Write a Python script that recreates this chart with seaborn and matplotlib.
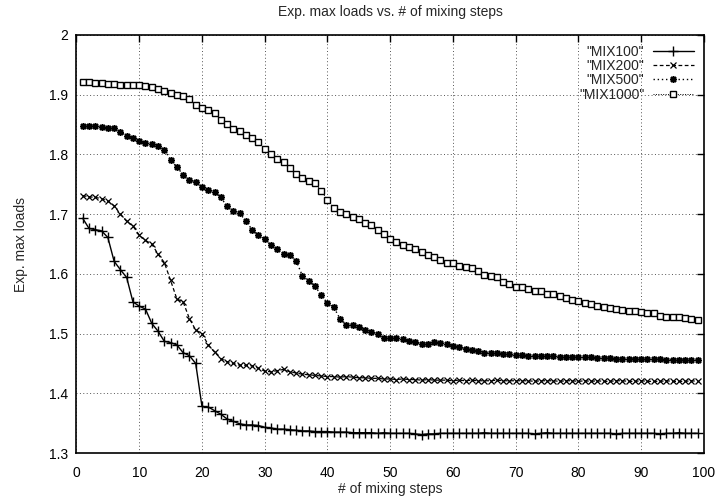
import matplotlib
matplotlib.use("Agg")
import matplotlib.pyplot as plt
import matplotlib.ticker as mticker
import seaborn as sns
import pandas as pd

steps = list(range(1, 100))

mix100 = [1.693, 1.676, 1.674, 1.672, 1.661, 1.621, 1.607, 1.594, 1.553, 1.546,
          1.541, 1.517, 1.504, 1.487, 1.485, 1.481, 1.468, 1.463, 1.450, 1.378,
          1.377, 1.371, 1.365, 1.357, 1.353, 1.349, 1.347, 1.347, 1.346, 1.343,
          1.342, 1.340, 1.340, 1.339, 1.338, 1.337, 1.337, 1.336, 1.336, 1.336,
          1.335, 1.335, 1.335, 1.334, 1.334, 1.334, 1.334, 1.333, 1.334, 1.333,
          1.333, 1.333, 1.333, 1.332, 1.331, 1.332, 1.332, 1.333, 1.333, 1.333,
          1.333, 1.333, 1.333, 1.333, 1.334, 1.333, 1.333, 1.333, 1.333, 1.333,
          1.333, 1.333, 1.332, 1.333, 1.334, 1.333, 1.333, 1.333, 1.333, 1.333,
          1.333, 1.333, 1.333, 1.333, 1.333, 1.332, 1.333, 1.333, 1.333, 1.333,
          1.333, 1.333, 1.332, 1.333, 1.333, 1.334, 1.333, 1.333, 1.333]

mix200 = [1.731, 1.729, 1.728, 1.726, 1.722, 1.714, 1.700, 1.688, 1.680, 1.665,
          1.656, 1.650, 1.633, 1.619, 1.589, 1.558, 1.553, 1.525, 1.506, 1.500,
          1.481, 1.469, 1.458, 1.453, 1.450, 1.447, 1.447, 1.446, 1.442, 1.437,
          1.436, 1.438, 1.440, 1.436, 1.434, 1.432, 1.431, 1.430, 1.429, 1.428,
          1.428, 1.427, 1.428, 1.427, 1.426, 1.426, 1.425, 1.425, 1.424, 1.424,
          1.423, 1.424, 1.423, 1.423, 1.422, 1.423, 1.422, 1.422, 1.422, 1.421,
          1.422, 1.421, 1.422, 1.421, 1.421, 1.421, 1.422, 1.421, 1.421, 1.421,
          1.421, 1.421, 1.420, 1.421, 1.421, 1.421, 1.420, 1.421, 1.421, 1.420,
          1.421, 1.420, 1.421, 1.420, 1.420, 1.421, 1.421, 1.420, 1.420, 1.421,
          1.420, 1.420, 1.420, 1.421, 1.420, 1.420, 1.420, 1.421, 1.420]

mix500 = [1.848, 1.848, 1.847, 1.846, 1.845, 1.844, 1.838, 1.831, 1.827, 1.822,
          1.819, 1.817, 1.814, 1.808, 1.791, 1.779, 1.766, 1.758, 1.753, 1.746,
          1.741, 1.737, 1.728, 1.713, 1.706, 1.702, 1.688, 1.674, 1.665, 1.658,
          1.648, 1.641, 1.634, 1.632, 1.622, 1.597, 1.588, 1.580, 1.564, 1.551,
          1.544, 1.525, 1.515, 1.514, 1.511, 1.506, 1.503, 1.499, 1.493, 1.492,
          1.492, 1.491, 1.487, 1.486, 1.482, 1.483, 1.486, 1.485, 1.482, 1.479,
          1.478, 1.474, 1.472, 1.471, 1.468, 1.467, 1.467, 1.466, 1.465, 1.464,
          1.464, 1.463, 1.463, 1.462, 1.462, 1.462, 1.461, 1.461, 1.461, 1.460,
          1.460, 1.460, 1.459, 1.459, 1.459, 1.458, 1.458, 1.458, 1.458, 1.457,
          1.457, 1.457, 1.457, 1.456, 1.456, 1.456, 1.456, 1.456, 1.455]

mix1000 = [1.921, 1.921, 1.920, 1.919, 1.918, 1.918, 1.917, 1.917, 1.916, 1.916,
           1.915, 1.913, 1.910, 1.906, 1.903, 1.900, 1.897, 1.893, 1.882, 1.878,
           1.874, 1.869, 1.858, 1.851, 1.843, 1.839, 1.832, 1.827, 1.821, 1.809,
           1.801, 1.793, 1.788, 1.777, 1.768, 1.761, 1.756, 1.752, 1.739, 1.724,
           1.710, 1.703, 1.700, 1.695, 1.692, 1.686, 1.682, 1.673, 1.667, 1.658,
           1.653, 1.649, 1.645, 1.641, 1.636, 1.631, 1.629, 1.623, 1.619, 1.618,
           1.613, 1.612, 1.609, 1.604, 1.598, 1.597, 1.594, 1.586, 1.583, 1.578,
           1.578, 1.574, 1.572, 1.571, 1.567, 1.566, 1.563, 1.560, 1.557, 1.554,
           1.551, 1.549, 1.547, 1.545, 1.543, 1.541, 1.539, 1.538, 1.538, 1.536,
           1.535, 1.534, 1.530, 1.528, 1.527, 1.527, 1.526, 1.524, 1.522]

labels = ['"MIX100"', '"MIX200"', '"MIX500"', '"MIX1000"']
title = "Exp. max loads vs. # of mixing steps"
xlabel = "# of mixing steps"
ylabel = "Exp. max loads"
xticks = list(range(0, 101, 10))
yticks = [1.3, 1.4, 1.5, 1.6, 1.7, 1.8, 1.9, 2.0]

sns.set_style("white")
plt.rcParams["font.family"] = ["Liberation Sans", "DejaVu Sans"]

fig = plt.figure(figsize=(7.16, 4.97), dpi=100)
ax = fig.add_axes([0.1068, 0.0885, 0.8764, 0.8411])

styles = [
    dict(linestyle="-", marker="+", markersize=6.5, linewidth=1.0, markeredgewidth=1.0),
    dict(linestyle=(0, (3, 2)), marker="x", markersize=4.8, linewidth=0.9, markeredgewidth=0.9),
    dict(linestyle=(0, (1, 2)), marker=(8, 2, 0), markersize=5.0, linewidth=1.0, markeredgewidth=1.1),
    dict(linestyle=(0, (1, 1.5)), marker="s", markersize=5.0, linewidth=0.7, markeredgewidth=1.0,
         markerfacecolor="white"),
]
series = [mix100, mix200, mix500, mix1000]

for vals, lab, st in zip(series, labels, styles):
    df = pd.DataFrame({"step": steps, "load": vals})
    sns.lineplot(data=df, x="step", y="load", ax=ax, color="black", label=lab,
                 markeredgecolor="black", **st)

ax.set_xlim(0, 100)
ax.set_ylim(1.3, 2.0)
ax.set_xticks(xticks)
ax.set_yticks(yticks)
ax.yaxis.set_major_formatter(mticker.FormatStrFormatter("%g"))
ax.grid(True, color="#555555", linestyle=(0, (1, 2.5)), linewidth=0.7)
ax.tick_params(direction="in", length=5, width=1, top=True, right=True,
               labelsize=10, colors="black")
ax.tick_params(axis="x", pad=9)
ax.tick_params(axis="y", pad=6)
for sp in ax.spines.values():
    sp.set_color("black")
    sp.set_linewidth(1.2)

ax.set_title(title, fontsize=10, pad=14)
ax.set_xlabel(xlabel, fontsize=10, labelpad=2)
ax.set_ylabel(ylabel, fontsize=10, labelpad=15)

leg = ax.legend(loc="upper right", frameon=False, markerfirst=False, fontsize=10,
                handlelength=3.0, handletextpad=0.6, labelspacing=0.02,
                borderaxespad=0.3, numpoints=1)

fig.savefig("out.png", dpi=100)
